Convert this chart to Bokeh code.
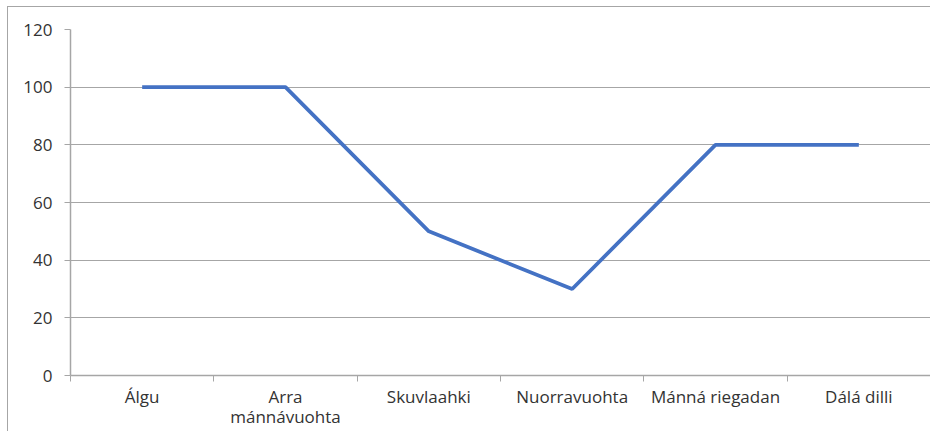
from bokeh.plotting import figure
from bokeh.models import FixedTicker, Range1d
from bokeh.embed import file_html
from bokeh.resources import INLINE

categories = ["Álgu", "Arra\nmánnávuohta", "Skuvlaahki", "Nuorravuohta", "Mánná riegadan", "Dálá dilli"]
values = [100, 100, 50, 30, 80, 80]
y_ticks = [0, 20, 40, 60, 80, 100, 120]

xs = [i + 0.5 for i in range(len(categories))]

p = figure(width=930, height=431, output_backend="svg", toolbar_location=None,
           x_range=Range1d(0, len(categories)), y_range=Range1d(0, 120),
           min_border_left=70, min_border_right=0, min_border_top=29, min_border_bottom=10)
p.styles = {"background": "white",
            "box-shadow": "inset 7px 6px 0 0 white, inset 8px 7px 0 0 #a6a6a6"}
p.outline_line_color = None
p.background_fill_color = "white"
p.border_fill_color = None

p.line(xs, values, line_color="#4472C4", line_width=3.75)

font = "Open Sans"
gray = "#a6a6a6"
txt = "#333333"

xa = p.xaxis[0]
xa.ticker = FixedTicker(ticks=xs, minor_ticks=list(range(len(categories) + 1)))
xa.major_label_overrides = {x: c for x, c in zip(xs, categories)}
xa.major_tick_line_color = None
xa.minor_tick_line_color = gray
xa.minor_tick_in = 0
xa.minor_tick_out = 6
xa.axis_line_color = gray
xa.axis_line_width = 1.5
xa.major_label_text_font = font
xa.major_label_text_font_size = "17px"
xa.major_label_text_color = txt
xa.major_label_text_line_height = 0.9
xa.major_label_standoff = 3

ya = p.yaxis[0]
ya.ticker = FixedTicker(ticks=y_ticks)
ya.major_tick_line_color = gray
ya.major_tick_in = 0
ya.major_tick_out = 6
ya.minor_tick_line_color = None
ya.axis_line_color = gray
ya.axis_line_width = 1.5
ya.major_label_text_font = font
ya.major_label_text_font_size = "17px"
ya.major_label_text_color = txt
ya.major_label_standoff = 12

p.xgrid.grid_line_color = None
p.ygrid.ticker = FixedTicker(ticks=y_ticks)
p.ygrid.grid_line_color = gray
p.ygrid.grid_line_width = 1.2

open("out.html", "w").write(file_html(p, INLINE))
